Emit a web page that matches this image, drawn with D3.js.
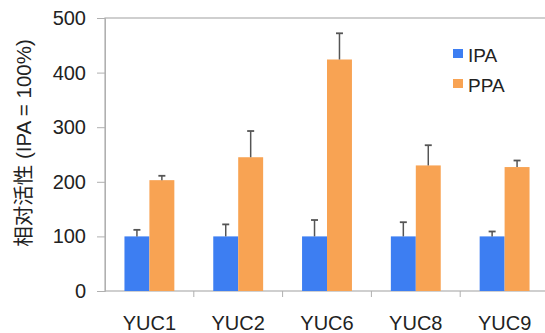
<!DOCTYPE html>
<html lang="zh">
    <head>
        <meta charset="utf-8">
        <title>YUC - IPA / PPA</title>
        <script type="text/javascript" src="https://cdn.jsdelivr.net/npm/d3@7/dist/d3.min.js"></script>
		<style>
			body {margin: 0; background: white;}
			text {font-family: "Liberation Sans", Arial, sans-serif; fill: #222;}
			.titreY {font-family: "Liberation Sans", "Noto Sans CJK SC", sans-serif;}
		</style>
    </head>
    <body>
		<svg width="545" height="333"></svg>
        <script type="text/javascript">
		var categories = ["YUC1", "YUC2", "YUC6", "YUC8", "YUC9"];
		var series = ["IPA", "PPA"];
		var valeursIPA = [100, 100, 100, 100, 100];
		var erreursIPA = [12, 22, 30, 26, 9];
		var valeursPPA = [203, 245, 424, 230, 227];
		var erreursPPA = [8, 48, 48, 37, 12];
		var ticksY = [0, 100, 200, 300, 400, 500];

		var couleurs = {IPA: "#3d7ef2", PPA: "#f8a353"};

		var donnees = [];
		categories.forEach(function (c, i) {
			donnees.push({cat: c, serie: "IPA", val: valeursIPA[i], err: erreursIPA[i]});
			donnees.push({cat: c, serie: "PPA", val: valeursPPA[i], err: erreursPPA[i]});
		});

		var svg = d3.select("svg");

		var echelleX = d3.scaleBand()
			.domain(categories)
			.range([105, 549])
			.padding(0);

		var echelleSerie = d3.scaleBand()
			.domain(series)
			.range([0, echelleX.bandwidth()])
			.paddingInner(0)
			.paddingOuter(0.78);

		var echelleY = d3.scaleLinear()
			.domain([0, 500])
			.range([291, 18]);

		// cadre gris
		svg.append("rect")
			.attr("x", echelleX.range()[0])
			.attr("y", echelleY(500))
			.attr("width", echelleX.range()[1] - echelleX.range()[0])
			.attr("height", echelleY(0) - echelleY(500))
			.attr("fill", "none")
			.attr("stroke", "#b0b0b0")
			.attr("stroke-width", 1.2);

		// axe des ordonnées
		var axeY = d3.axisLeft(echelleY)
			.tickValues(ticksY)
			.tickSize(8)
			.tickPadding(11);

		var gAxeY = svg.append("g")
			.attr("transform", "translate(" + echelleX.range()[0] + ",0)")
			.call(axeY);
		gAxeY.select(".domain").attr("stroke", "#b0b0b0");
		gAxeY.selectAll(".tick line").attr("stroke", "#b0b0b0");
		gAxeY.selectAll(".tick text")
			.style("font-size", "20px")
			.attr("fill", "#222");

		// petites graduations entre les catégories
		svg.selectAll("line.gradX")
			.data(categories.slice(1))
			.enter()
			.append("line")
				.classed("gradX", true)
				.attr("x1", function (d) { return echelleX(d); })
				.attr("x2", function (d) { return echelleX(d); })
				.attr("y1", echelleY(0))
				.attr("y2", echelleY(0) + 6)
				.attr("stroke", "#b0b0b0");

		svg.selectAll("text.labelX")
			.data(categories)
			.enter()
			.append("text")
				.classed("labelX", true)
				.attr("x", function (d) { return echelleX(d) + echelleX.bandwidth() / 2; })
				.attr("y", 330)
				.style("text-anchor", "middle")
				.style("font-size", "20px")
				.text(function (d) { return d; });

		// barres
		svg.selectAll("rect.barre")
			.data(donnees)
			.enter()
			.append("rect")
				.classed("barre", true)
				.attr("x", function (d) { return echelleX(d.cat) + echelleSerie(d.serie); })
				.attr("width", echelleSerie.bandwidth())
				.attr("y", function (d) { return echelleY(d.val); })
				.attr("height", function (d) { return echelleY(0) - echelleY(d.val); })
				.attr("fill", function (d) { return couleurs[d.serie]; });

		// barres d'erreur (vers le haut)
		var gErreur = svg.selectAll("g.erreur")
			.data(donnees)
			.enter()
			.append("g")
				.classed("erreur", true);

		function centreBarre(d) {
			return echelleX(d.cat) + echelleSerie(d.serie) + echelleSerie.bandwidth() / 2;
		}

		gErreur.append("line")
			.attr("x1", centreBarre)
			.attr("x2", centreBarre)
			.attr("y1", function (d) { return echelleY(d.val); })
			.attr("y2", function (d) { return echelleY(d.val + d.err); })
			.attr("stroke", "#555")
			.attr("stroke-width", 1.5);

		gErreur.append("line")
			.attr("x1", function (d) { return centreBarre(d) - 3.5; })
			.attr("x2", function (d) { return centreBarre(d) + 3.5; })
			.attr("y1", function (d) { return echelleY(d.val + d.err); })
			.attr("y2", function (d) { return echelleY(d.val + d.err); })
			.attr("stroke", "#555")
			.attr("stroke-width", 1.8);

		// légende
		var gLegende = svg.selectAll("g.legende")
			.data(series)
			.enter()
			.append("g")
				.classed("legende", true)
				.attr("transform", function (d, i) { return "translate(453," + (49 + i * 30) + ")"; });

		gLegende.append("rect")
			.attr("width", 10)
			.attr("height", 9)
			.attr("fill", function (d) { return couleurs[d]; });

		gLegende.append("text")
			.attr("x", 15)
			.attr("y", 13)
			.style("font-size", "19px")
			.text(function (d) { return d; });

		// titre de l'axe Y
		svg.append("text")
			.classed("titreY", true)
			.attr("transform", "translate(31,143) rotate(-90)")
			.style("text-anchor", "middle")
			.style("font-size", "20.5px")
			.text("相对活性 (IPA = 100%)");
		</script>
    </body>
</html>
